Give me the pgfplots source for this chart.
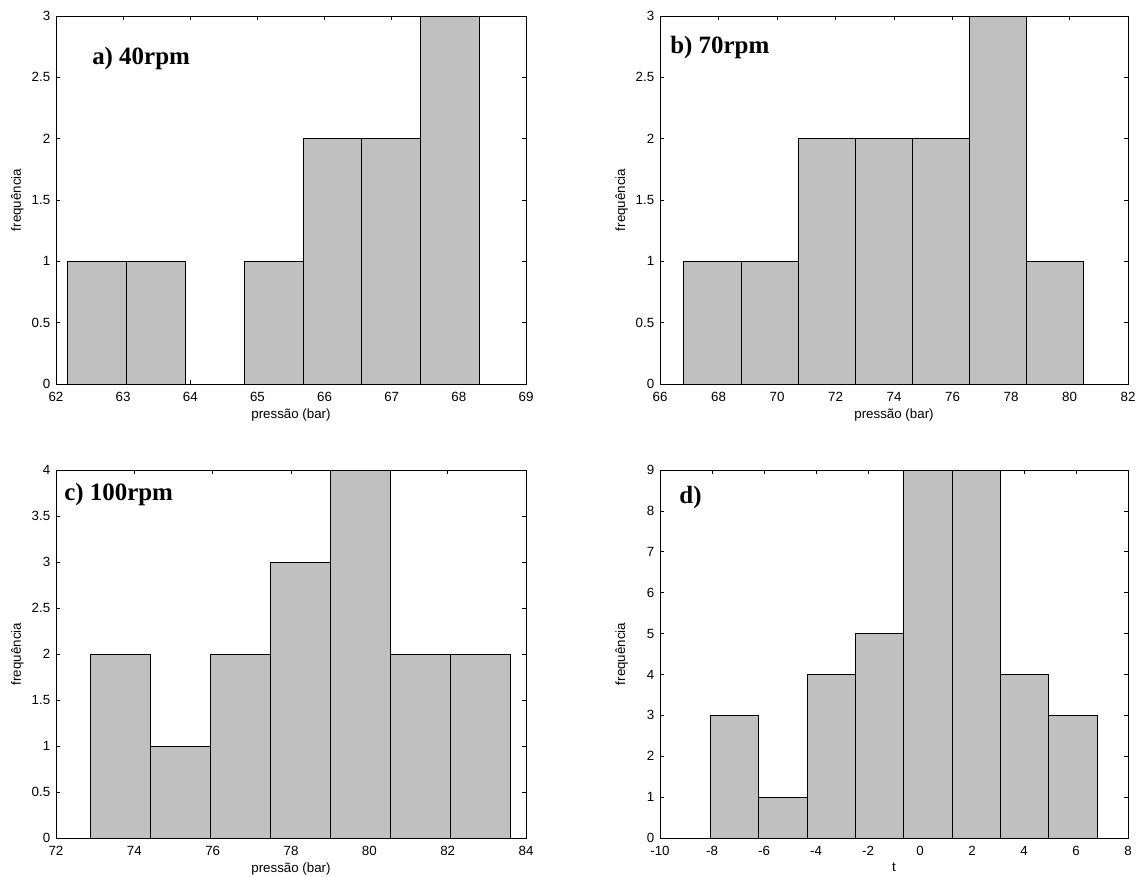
\documentclass[border=0pt]{standalone}
\usepackage{fontspec}
\setmainfont{Liberation Sans}
\newfontfamily\tnr{Liberation Serif}
\usepackage{pgfplots}
\pgfplotsset{compat=1.18}
\definecolor{silver}{RGB}{192,192,192}
\tikzset{panel/.style={font=\tnr\bfseries\fontsize{18.7}{22}\selectfont, anchor=base west, inner sep=0pt}}
\pgfplotsset{
  hist/.style={
    scale only axis,
    width=352.5pt, height=276pt,
    anchor=north west,
    tick align=inside,
    major tick length=3pt,
    every tick/.style={black, line width=0.6pt},
    axis line style={black, line width=0.6pt},
    tick label style={font=\fontsize{10}{12}\selectfont},
    label style={font=\fontsize{10}{12}\selectfont},
    /pgf/number format/assume math mode=true,
    y label style={at={(axis description cs:-0.082,0.5)}, anchor=center},
    x label style={at={(axis description cs:0.5,-0.056)}, anchor=north},
    xticklabel style={yshift=-2.5pt},
    yticklabel style={xshift=-0.8pt},
    ymin=0,
  },
}
\begin{document}
\begin{tikzpicture}
\path[use as bounding box] (0,0) rectangle (852.75pt,-657pt);
% a)
\begin{axis}[hist, at={(42pt,-12pt)},
  xmin=62, xmax=69, xtick={62,...,69},
  ymax=3, ytick={0,0.5,...,3},
  xlabel={pressão (bar)}, ylabel={frequência}]
\addplot[ybar interval, fill=silver, draw=black, line width=0.6pt] coordinates {
 (62.17,1) (63.05,1) (63.92,0) (64.80,1) (65.68,2) (66.55,2) (67.43,3) (68.30,3)};
\node[panel] at (rel axis cs:0.0766,0.867) {a) 40rpm};
\end{axis}
% b)
\begin{axis}[hist, at={(495pt,-12pt)}, width=351pt,
  xmin=66, xmax=82, xtick={66,68,...,82},
  ymax=3, ytick={0,0.5,...,3},
  xlabel={pressão (bar)}, ylabel={frequência}]
\addplot[ybar interval, fill=silver, draw=black, line width=0.6pt] coordinates {
 (66.81,1) (68.77,1) (70.72,2) (72.68,2) (74.63,2) (76.58,3) (78.54,1) (80.49,1)};
\node[panel] at (rel axis cs:0.0214,0.899) {b) 70rpm};
\end{axis}
% c)
\begin{axis}[hist, at={(42pt,-352.5pt)},
  xmin=72, xmax=84, xtick={72,74,...,84},
  ymax=4, ytick={0,0.5,...,4},
  xlabel={pressão (bar)}, ylabel={frequência}]
\addplot[ybar interval, fill=silver, draw=black, line width=0.6pt] coordinates {
 (72.87,2) (74.41,1) (75.94,2) (77.48,3) (79.01,4) (80.55,2) (82.08,2) (83.60,2)};
\node[panel] at (rel axis cs:0.017,0.916) {c) 100rpm};
\end{axis}
% d)
\begin{axis}[hist, at={(495pt,-352.5pt)}, width=351pt,
  xmin=-10, xmax=8, xtick={-10,-8,...,8},
  ymax=9, ytick={0,1,...,9},
  xlabel={t}, ylabel={frequência}]
\addplot[ybar interval, fill=silver, draw=black, line width=0.6pt] coordinates {
 (-8.06,3) (-6.20,1) (-4.34,4) (-2.48,5) (-0.62,9) (1.24,9) (3.10,4) (4.95,3) (6.81,3)};
\node[panel] at (rel axis cs:0.041,0.910) {d)};
\end{axis}
\end{tikzpicture}
\end{document}
